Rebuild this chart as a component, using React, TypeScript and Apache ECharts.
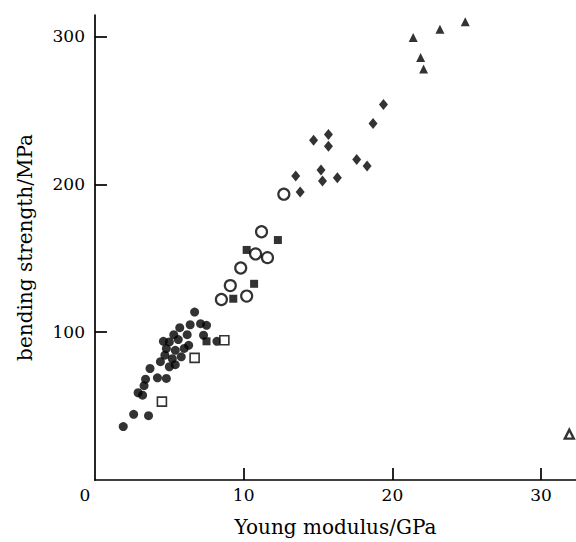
import React, { useEffect, useRef } from "react";
import * as echarts from "echarts";

// [Young modulus GPa, bending strength MPa]
const filledCircles: number[][] = [
  [6.7, 113.6], [6.4, 105], [7.1, 105.7], [7.5, 104.6], [5.7, 103], [5.3, 98.3],
  [6.2, 98.3], [4.6, 93.8], [5.0, 93.4], [5.6, 95], [7.3, 97.9], [6.3, 91.1],
  [8.2, 93.8], [4.8, 88.9], [5.4, 87.7], [6.0, 89], [4.7, 84.4], [5.8, 83.3],
  [5.2, 82], [4.4, 80], [5.0, 76.6], [5.4, 78], [3.7, 75.4], [4.2, 69.1],
  [4.8, 68.7], [3.4, 68.2], [3.3, 63.8], [2.9, 59], [3.2, 57.4], [2.6, 44.4],
  [3.6, 43.5], [1.9, 36.1],
];
const filledSquares: number[][] = [
  [7.5, 93.8], [10.2, 155.6], [12.3, 162.3], [10.7, 132.7], [9.3, 122.6],
];
const openSquares: number[][] = [[8.7, 94.5], [6.7, 82.6], [4.5, 53]];
const openCircles: number[][] = [
  [12.7, 193.3], [11.2, 167.9], [10.8, 152.9], [11.6, 150.4], [9.8, 143.4],
  [9.1, 131.5], [8.5, 122.1], [10.2, 124.4],
];
const diamonds: number[][] = [
  [19.4, 253.9], [18.7, 241.1], [14.7, 229.8], [15.7, 233.7], [15.7, 225.8],
  [17.6, 216.8], [18.3, 212.3], [13.5, 205.6], [15.2, 209.6], [15.3, 202.2],
  [16.3, 204.5], [13.8, 194.8],
];
const filledTriangles: number[][] = [
  [24.9, 310], [23.2, 304.8], [21.4, 299.2], [21.9, 285.7], [22.1, 277.9],
];
const openTriangles: number[][] = [[31.9, 31]];

const xTicks = [10, 20, 30];
const xLabels = [0, 10, 20, 30];
const yTicks = [100, 200, 300];

const FONT = "DejaVu Serif";

export default function App() {
  const ref = useRef<HTMLDivElement>(null);
  useEffect(() => {
    document.body.style.margin = "0";
    const chart = echarts.init(ref.current!, undefined, { renderer: "svg" });
    const black = "#000";
    chart.setOption({
      animation: false,
      backgroundColor: "#fff",
      grid: { left: 95, right: 0, top: 15, bottom: 60, containLabel: false },
      xAxis: {
        type: "value",
        min: 0,
        max: 32.35,
        splitLine: { show: false },
        axisLine: { show: true, lineStyle: { color: black, width: 1.7 } },
        axisTick: {
          show: true,
          inside: true,
          length: 12,
          customValues: xTicks,
          lineStyle: { color: black, width: 1.7 },
        },
        axisLabel: {
          customValues: xLabels,
          color: black,
          fontFamily: FONT,
          fontSize: 17,
          margin: 6,
          formatter: (v: number) => (v === 0 ? "{z|0}" : String(v)),
          rich: { z: { fontFamily: FONT, fontSize: 17, color: black, padding: [0, 20, 0, 0] } },
        },
        name: "Young modulus/GPa",
        nameLocation: "middle",
        nameGap: 37,
        nameTextStyle: { color: black, fontFamily: FONT, fontSize: 20 },
      },
      yAxis: {
        type: "value",
        min: 0,
        max: 314.5,
        splitLine: { show: false },
        axisLine: { show: true, lineStyle: { color: black, width: 1.7 } },
        axisTick: {
          show: true,
          inside: true,
          length: 12,
          customValues: yTicks,
          lineStyle: { color: black, width: 1.7 },
        },
        axisLabel: {
          customValues: yTicks,
          color: black,
          fontFamily: FONT,
          fontSize: 17,
          margin: 10,
        },
        name: "bending strength/MPa",
        nameLocation: "middle",
        nameGap: 60,
        nameTextStyle: { color: black, fontFamily: FONT, fontSize: 20 },
      },
      series: [
        {
          type: "scatter",
          data: filledCircles,
          symbol: "circle",
          symbolSize: 9,
          itemStyle: { color: black },
        },
        {
          type: "scatter",
          data: filledSquares,
          symbol: "rect",
          symbolSize: 8,
          itemStyle: { color: black },
        },
        {
          type: "scatter",
          data: openSquares,
          symbol: "rect",
          symbolSize: 9,
          itemStyle: { color: "#fff", borderColor: black, borderWidth: 1.6 },
        },
        {
          type: "scatter",
          data: openCircles,
          symbol: "circle",
          symbolSize: 11,
          itemStyle: { color: "#fff", borderColor: black, borderWidth: 2.2 },
        },
        {
          type: "scatter",
          data: diamonds,
          symbol: "diamond",
          symbolSize: [9, 11],
          itemStyle: { color: black },
        },
        {
          type: "scatter",
          data: filledTriangles,
          symbol: "triangle",
          symbolSize: 9,
          itemStyle: { color: black },
        },
        {
          type: "scatter",
          data: openTriangles,
          symbol: "triangle",
          symbolSize: 9,
          itemStyle: { color: "#fff", borderColor: black, borderWidth: 2.4 },
        },
      ],
    });
    return () => chart.dispose();
  }, []);
  return <div ref={ref} style={{ width: 576, height: 542 }} />;
}
